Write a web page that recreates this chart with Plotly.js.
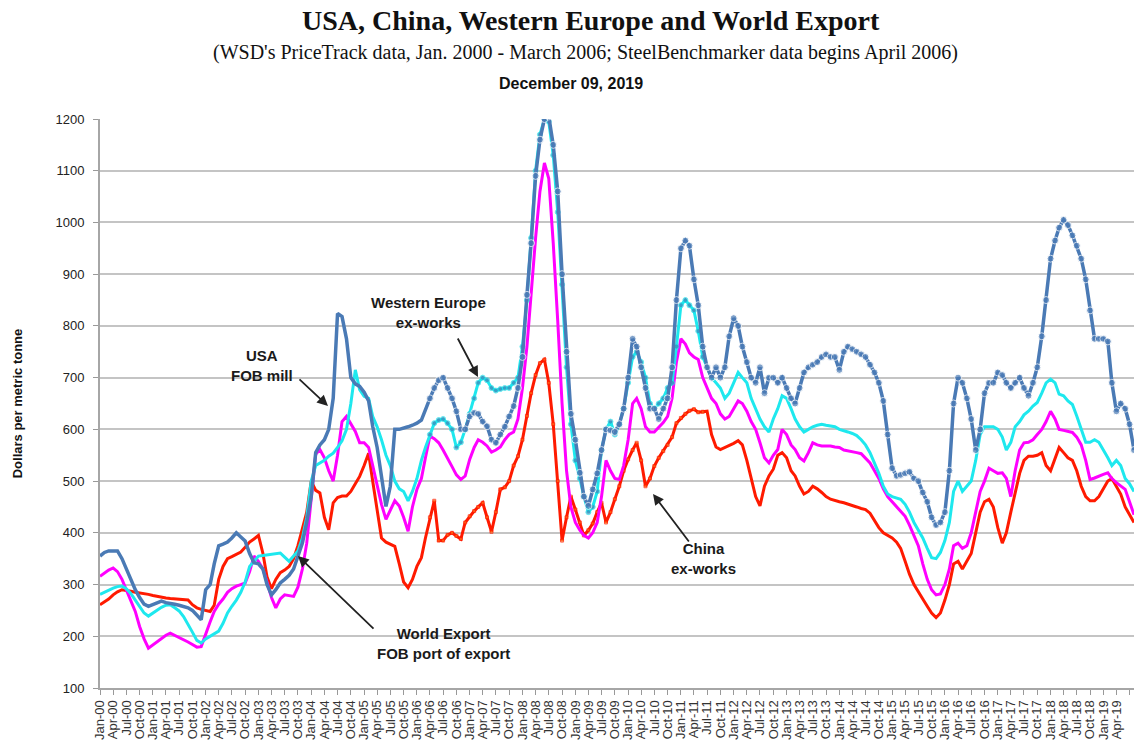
<!DOCTYPE html>
<html>
<head>
<meta charset="utf-8">
<script src="https://cdn.plot.ly/plotly-3.0.1.min.js"></script>
<style>html,body{margin:0;padding:0;background:#fff}#chart{width:1134px;height:745px}</style>
</head>
<body>
<div id="chart"></div>
<script>
// Monthly values, Jan 2000 onward (USD per metric tonne)
const startYear = 2000;
const usa = [
355,362,365,365,365,350,330,310,290,275,262,258,
262,266,268,265,264,262,260,258,255,250,242,232,
290,300,340,375,378,382,390,400,392,384,360,342,
340,330,300,280,290,303,310,318,330,355,380,420,
470,555,570,580,600,660,824,818,775,700,688,683,
672,655,606,565,510,451,490,600,600,602,605,608,
612,618,640,660,680,695,700,680,660,635,600,600,
625,632,630,615,606,580,574,590,605,625,645,680,
740,860,960,1090,1160,1200,1205,1150,1060,900,750,630,
580,516,470,452,484,515,560,600,598,595,610,640,
700,775,760,720,680,640,640,620,640,660,720,850,
950,965,955,890,840,760,720,700,720,700,720,780,
815,800,760,730,700,690,720,670,700,700,690,700,
680,660,650,680,710,720,725,730,740,745,740,740,
715,750,760,755,750,745,740,725,710,690,655,590,
525,510,512,515,518,505,500,478,460,430,415,420,
440,520,650,700,690,660,620,560,600,670,690,690,
710,705,690,680,690,700,680,665,690,720,780,850,
930,965,990,1005,995,975,955,930,890,830,775,775,
775,770,690,635,650,640,610,560];
const westernEurope = [
281,285,290,293,296,297,292,283,270,258,245,239,
245,252,256,260,261,255,249,238,224,208,192,187,
195,200,205,210,225,245,258,270,285,305,335,345,
355,356,357,358,360,361,353,345,355,365,390,430,
500,530,535,540,548,554,565,578,600,650,715,677,
664,660,625,605,580,550,530,500,485,480,462,480,
505,540,565,590,612,618,620,612,600,565,575,600,
630,660,690,700,695,680,675,678,680,680,690,700,
760,850,970,1100,1170,1200,1195,1130,1020,880,720,610,
540,505,470,440,450,480,560,600,615,590,610,640,
690,740,750,730,700,650,640,650,660,680,690,760,
840,850,840,830,790,740,720,700,690,680,660,670,
690,710,700,690,660,640,620,605,595,620,640,665,
660,640,620,605,595,600,605,608,610,608,606,605,
600,598,595,592,588,580,570,555,535,515,490,475,
470,468,465,455,440,420,405,390,370,352,350,362,
385,420,480,500,480,490,500,540,590,605,605,605,
600,585,560,575,605,615,628,635,645,652,670,690,
697,690,668,665,655,648,626,600,575,575,580,575,
561,545,530,540,530,505,495,480];
const worldExport = [
316,322,328,332,325,310,290,268,248,219,195,177,
183,190,196,202,206,202,198,194,189,184,179,180,
205,228,248,262,272,285,292,297,300,303,325,355,
345,330,305,275,255,272,280,278,277,295,330,380,
470,552,561,545,520,500,550,615,625,612,596,574,
574,565,529,495,455,426,445,462,452,430,403,450,
484,505,545,587,582,574,560,545,528,512,503,510,
542,565,580,575,568,556,560,566,580,590,595,620,
680,760,870,970,1060,1115,1085,960,810,650,520,450,
420,405,395,390,400,420,470,540,520,505,503,530,
580,650,660,640,605,595,595,605,613,625,660,730,
775,765,748,740,735,700,680,660,650,630,620,625,
640,655,650,635,615,600,574,545,535,550,561,600,
590,570,561,545,539,555,574,570,568,568,568,566,
565,560,558,556,555,553,545,535,520,505,485,470,
460,450,440,432,415,395,375,340,310,290,280,282,
300,330,375,380,370,375,400,440,480,500,525,520,
515,516,505,470,520,560,574,575,580,590,600,615,
635,620,600,598,596,594,585,570,540,503,506,510,
513,516,505,497,490,484,460,435];
const china = [
261,266,272,280,286,290,289,287,285,284,283,281,
279,277,275,274,273,272,271,271,270,261,255,252,
250,248,260,310,335,350,354,358,363,372,382,388,
395,360,315,292,310,323,328,335,350,375,410,440,
500,482,477,430,406,458,468,471,471,480,495,509,
530,554,500,440,390,382,378,374,340,305,294,310,
335,352,390,430,462,385,385,396,400,394,388,420,
432,442,450,458,430,402,440,484,488,500,530,548,
580,626,670,705,728,735,690,610,500,385,430,470,
445,420,395,405,418,440,458,420,440,465,490,520,
542,560,574,540,490,505,529,545,558,570,585,612,
622,630,636,639,633,634,635,590,566,561,565,568,
573,578,570,540,505,470,452,490,510,523,550,555,
545,520,510,490,475,480,490,485,478,470,465,462,
460,458,455,452,450,447,445,438,425,410,400,395,
390,382,370,345,320,300,285,272,258,245,236,245,
270,300,340,345,330,345,360,400,440,460,465,450,
410,380,400,440,480,515,540,548,548,550,555,530,
520,545,565,555,545,540,520,490,470,462,462,470,
485,500,505,490,475,450,435,420];

const months = usa.map((_, i) => {
  const y = startYear + Math.floor(i / 12), m = (i % 12) + 1;
  return y + '-' + String(m).padStart(2, '0') + '-01';
});
// marker visibility: SteelBenchmarker period (from April 2006)
const sbStart = 75;
const sizes = (from, to, s) => months.map((_, i) => (i >= from && i <= to) ? s : 0);

const traces = [
  {x: months, y: china, name: 'China ex-works', mode: 'lines+markers',
   line: {color: '#ff1a00', width: 3},
   marker: {color: '#ff7a1a', size: sizes(sbStart, 137, 3), symbol: 'square'}},
  {x: months, y: worldExport, name: 'World Export', mode: 'lines',
   line: {color: '#ff00ff', width: 3}},
  {x: months, y: westernEurope, name: 'Western Europe ex-works', mode: 'lines+markers',
   line: {color: '#1ee8ee', width: 3},
   marker: {color: '#3d86b8', size: sizes(sbStart, 137, 5), symbol: 'circle'}},
  {x: months, y: usa, name: 'USA FOB mill', mode: 'lines+markers',
   line: {color: '#4a7ab5', width: 3.5},
   marker: {color: '#4a7ab5', size: sizes(sbStart, 999, 7), symbol: 'circle'}}
];

const W = 1034, H = 569, L = 100, T = 119;
const px = x => (x - L) / W;
const py = y => (T + H - y) / H;
const arrow = (hx, hy, tx, ty) => ({
  xref: 'paper', yref: 'paper', x: px(hx), y: py(hy), ax: tx - hx, ay: ty - hy,
  text: '', showarrow: true, arrowhead: 2, arrowsize: 1.2, arrowwidth: 1.8, arrowcolor: '#222'
});
const label = (cx, cy, txt) => ({
  xref: 'paper', yref: 'paper', x: px(cx), y: py(cy), text: txt, showarrow: false,
  xanchor: 'center', yanchor: 'middle',
  font: {family: 'Liberation Sans, Arial', size: 15, color: '#1a1a1a'}, align: 'center'
});
const head = (cx, cy, txt, font) => ({
  xref: 'paper', yref: 'paper', x: px(cx), y: py(cy), text: txt, showarrow: false,
  font: font, xanchor: 'center', yanchor: 'middle'
});

const layout = {
  width: 1134, height: 745,
  margin: {l: L, r: 0, t: T, b: 745 - T - H},
  paper_bgcolor: '#fff', plot_bgcolor: '#fff',
  showlegend: false,
  font: {family: 'Liberation Sans, Arial', color: '#222'},
  xaxis: {
    type: 'date', range: ['2000-01-01', '2019-08-01'],
    tick0: '2000-01-01', dtick: 'M3', tickformat: '%b-%y', tickangle: -90,
    tickfont: {size: 13, color: '#333'}, ticks: 'outside', ticklen: 5, tickcolor: '#999',
    showline: true, linecolor: '#a6a6a6', linewidth: 2, showgrid: false, zeroline: false
  },
  yaxis: {
    range: [100, 1200], dtick: 100, tick0: 100,
    tickfont: {size: 13, color: '#222'}, ticks: 'outside', ticklen: 5, tickcolor: '#999',
    ticklabelstandoff: 6,
    showline: true, linecolor: '#a6a6a6', linewidth: 2,
    gridcolor: '#c4c4c4', gridwidth: 2, zeroline: false,
    title: {text: '<b>Dollars per metric tonne</b>', font: {size: 13, color: '#111'}, standoff: 30}
  },
  annotations: [
    head(591, 20, '<b>USA, China, Western Europe and World Export</b>',
         {family: 'Liberation Serif, Times New Roman', size: 28, color: '#111'}),
    head(585, 52, "(WSD's PriceTrack data, Jan. 2000 - March 2006; SteelBenchmarker data begins April 2006)",
         {family: 'Liberation Serif, Times New Roman', size: 20, color: '#111'}),
    head(571, 83, '<b>December 09, 2019</b>',
         {family: 'Liberation Sans, Arial', size: 16, color: '#111'}),
    label(262, 365, '<b>USA<br>FOB mill</b>'),
    label(428, 312, '<b>Western Europe<br>ex-works</b>'),
    label(703, 558, '<b>China<br>ex-works</b>'),
    label(443, 643, '<b>World Export<br>FOB port of export</b>'),
    arrow(328, 406, 298, 378),
    arrow(478, 377, 457, 337),
    arrow(653, 494, 690, 543),
    arrow(298, 556, 375, 630)
  ]
};

Plotly.newPlot('chart', traces, layout, {displayModeBar: false, staticPlot: true});
</script>
</body>
</html>
